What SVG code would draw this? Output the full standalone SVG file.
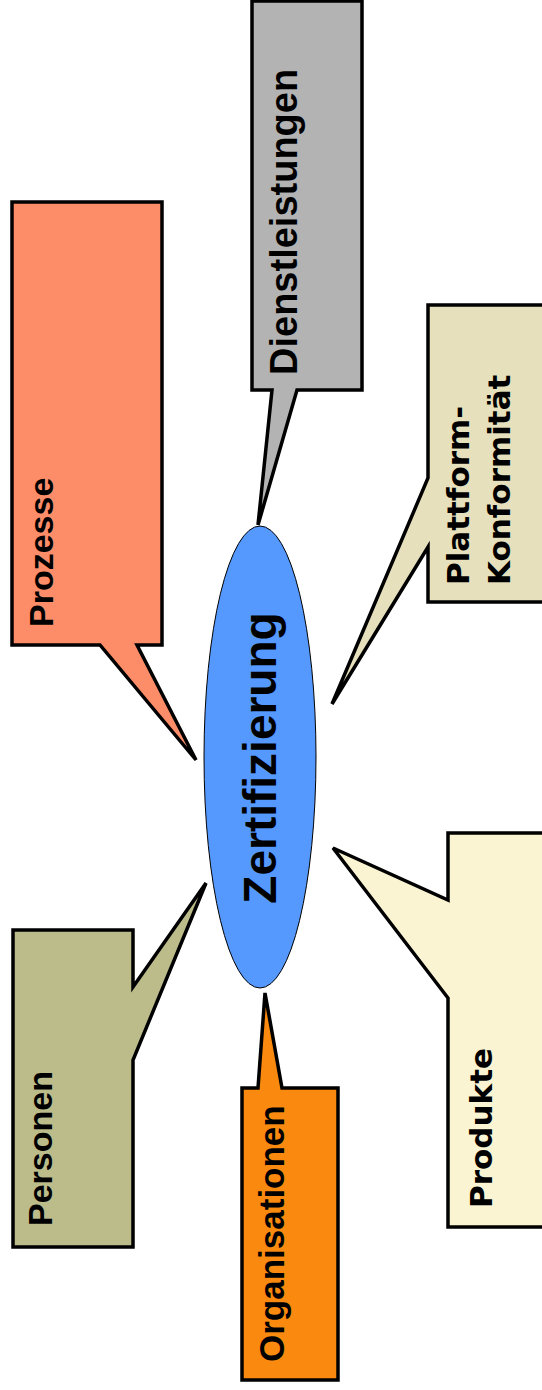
<svg xmlns="http://www.w3.org/2000/svg" width="542" height="1390" viewBox="0 0 542 1390">
<style>
.box{stroke:#000;stroke-width:3.5;stroke-linejoin:miter}
.t{font-family:"Liberation Sans",Arial,sans-serif;font-weight:bold;fill:#000}
.v{font-family:"DejaVu Sans",Verdana,sans-serif;font-weight:bold;fill:#000}
</style>
<rect width="542" height="1390" fill="#fff"/>
<g id="connectors"></g>
<g id="prozesse">
<path class="box" fill="#FD8D68" d="M12,202 H162 V645 H137 L196,760 L100,645 H12 Z"/>
<text class="t" font-size="34" transform="translate(53,627) rotate(-90)">Prozesse</text>
</g>
<g id="dienstleistungen">
<path class="box" fill="#B3B3B3" d="M252,1 H362 V390 H297 L258,525 L272,390 H252 Z"/>
<text class="t" font-size="38" transform="translate(297,375) rotate(-90)">Dienstleistungen</text>
</g>
<g id="plattform">
<path class="box" fill="#E6E0BC" d="M428,305 H546 V602 H428 V547 L332,704 L428,478 Z"/>
<text class="v" font-size="31" transform="translate(469,585) rotate(-90)">Plattform-</text>
<text class="v" font-size="31" transform="translate(510,585) rotate(-90)">Konformität</text>
</g>
<g id="produkte">
<path class="box" fill="#FAF4D2" d="M448,833 H546 V1227 H448 V998 L333,848 L448,900 Z"/>
<text class="v" font-size="31" transform="translate(492,1208) rotate(-90)">Produkte</text>
</g>
<g id="personen">
<path class="box" fill="#BCBB8A" d="M13,930 H133 V987 L206,883 L133,1060 V1247 H13 Z"/>
<text class="t" font-size="34" transform="translate(52,1226) rotate(-90)">Personen</text>
</g>
<g id="organisationen">
<path class="box" fill="#F9890F" d="M242,1088 H258 L265,993 L282,1088 H338 V1380 H242 Z"/>
<text class="t" font-size="35" transform="translate(284,1362) rotate(-90)">Organisationen</text>
</g>
<g id="zertifizierung">
<ellipse cx="260" cy="757" rx="56" ry="231" fill="#5599FF" stroke="#000" stroke-width="1"/>
<text class="t" font-size="46" text-anchor="middle" transform="translate(276,758) rotate(-90)">Zertifizierung</text>
</g>
</svg>
